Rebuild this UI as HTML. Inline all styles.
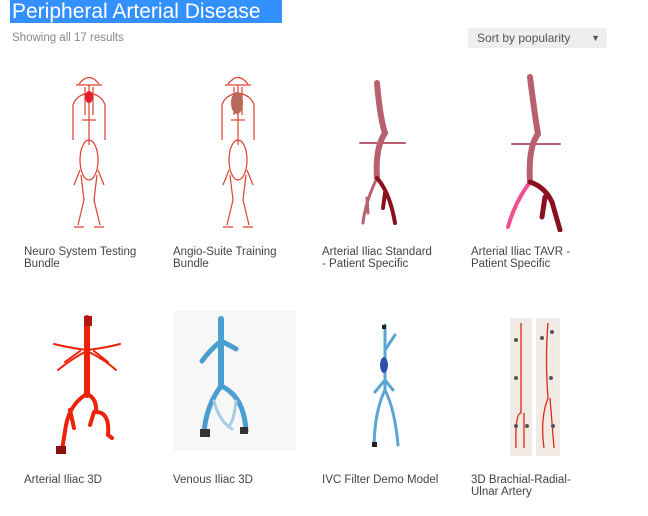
<!DOCTYPE html>
<html><head><meta charset="utf-8"><style>
*{margin:0;padding:0}
body{width:648px;height:516px;background:#fff;position:relative;overflow:hidden;font-family:"Liberation Sans",sans-serif}
.t{position:absolute;left:10px;top:0;height:23px;width:272px;background:#3390ff;color:#fff;font-size:21px;line-height:23px;padding-left:2px;box-sizing:border-box;white-space:nowrap;overflow:hidden}
.s{position:absolute;left:12px;top:32px;font-size:11.5px;color:#888}
.sort{position:absolute;left:468px;top:28px;width:139px;height:20px;background:#eee;border-radius:2px;font-size:12px;color:#555;line-height:20px;padding-left:9px;box-sizing:border-box}
.sort span{position:absolute;right:7px;top:0;font-size:9px}
.l{position:absolute;font-size:11.5px;line-height:12px;color:#444;white-space:nowrap}
svg{position:absolute}
</style></head><body>
<div class="t">Peripheral Arterial Disease</div>
<div class="s">Showing all 17 results</div>
<div class="sort">Sort by popularity<span>▼</span></div>

<svg style="left:64px;top:75px" width="52" height="160" viewBox="0 0 52 160">
<g stroke="#dd4030" fill="none" stroke-width="1.2">
<path d="M15 9 Q25 -4 35 9 M12 10 H38"/>
<path d="M25 10 V70 M21 12 V40 M29 12 V40"/>
<path d="M25 18 Q12 20 9 30 V65 M25 18 Q38 20 41 30 V65"/>
<path d="M18 45 H32"/>
<ellipse cx="25" cy="85" rx="9" ry="20"/>
<path d="M17 100 L20 125 L14 150 M33 100 L30 125 L36 150 M16 95 L10 110 M34 95 L40 110"/>
<path d="M10 152 H20 M30 152 H40"/>
</g><ellipse cx="25" cy="22" rx="4" ry="6" fill="#e0202a"/></svg>

<svg style="left:213px;top:75px" width="52" height="160" viewBox="0 0 52 160">
<g stroke="#dd4030" fill="none" stroke-width="1.2">
<path d="M15 9 Q25 -4 35 9 M12 10 H38"/>
<path d="M25 10 V70 M21 12 V40 M29 12 V40"/>
<path d="M25 18 Q12 20 9 30 V65 M25 18 Q38 20 41 30 V65"/>
<path d="M18 45 H32"/>
<ellipse cx="25" cy="85" rx="9" ry="20"/>
<path d="M17 100 L20 125 L14 150 M33 100 L30 125 L36 150 M16 95 L10 110 M34 95 L40 110"/>
<path d="M10 152 H20 M30 152 H40"/>
</g><ellipse cx="24" cy="28" rx="6" ry="11" fill="#b86a5a"/></svg>

<svg style="left:355px;top:78px" width="80" height="150" viewBox="0 0 80 150">
<g fill="none" stroke-linecap="round">
<path d="M22 5 Q25 40 30 55 Q20 70 22 100" stroke="#b86070" stroke-width="6"/>
<path d="M5 65 H50" stroke="#b86070" stroke-width="2"/>
<path d="M22 100 Q10 125 8 145 M12 120 L13 135" stroke="#b86070" stroke-width="3"/>
<path d="M22 100 Q35 115 40 145 M30 115 L28 130" stroke="#8a1020" stroke-width="4"/>
</g></svg>

<svg style="left:500px;top:72px" width="80" height="160" viewBox="0 0 80 160">
<g fill="none" stroke-linecap="round">
<path d="M30 5 Q35 45 38 62 Q28 75 30 110" stroke="#b86070" stroke-width="6"/>
<path d="M12 72 H60" stroke="#b86070" stroke-width="2"/>
<path d="M30 110 Q15 130 8 155" stroke="#f05090" stroke-width="4"/>
<path d="M30 110 Q45 115 52 130 L60 158 M45 125 L42 145" stroke="#8a1020" stroke-width="5"/>
</g></svg>

<svg style="left:0;top:300px" width="150" height="160" viewBox="0 0 150 160">
<g fill="none" stroke="#ee2208" stroke-linecap="round">
<path d="M87 18 V95" stroke-width="6"/>
<path d="M87 50 Q70 48 54 44 M85 52 Q70 60 58 70 M80 51 L65 62 M87 50 Q105 48 120 44 M89 52 Q105 60 116 70 M94 51 L108 62" stroke-width="2"/>
<path d="M85 95 Q70 105 66 125 L62 150 M89 95 Q97 100 96 112 Q110 112 108 135 L112 138 M70 110 L74 128 M94 112 L90 125" stroke-width="4"/>
</g><rect x="84" y="16" width="8" height="10" fill="#b01818"/><rect x="56" y="146" width="10" height="8" fill="#8a1010"/></svg>

<svg style="left:174px;top:311px" width="122" height="140" viewBox="0 0 122 140">
<rect width="122" height="140" fill="#f7f7f8"/>
<g fill="none" stroke="#4a9fd0" stroke-linecap="round">
<path d="M47 8 V75" stroke-width="6"/>
<path d="M47 30 Q35 40 28 50 M47 30 Q57 35 62 38" stroke-width="5"/>
<path d="M47 75 Q32 95 30 122 M47 75 Q70 85 72 120" stroke-width="5"/>
<path d="M40 90 Q45 110 58 118 M62 90 Q60 110 55 115" stroke="#a8cde3" stroke-width="3"/>
</g><rect x="26" y="118" width="10" height="8" fill="#333"/><rect x="66" y="116" width="8" height="7" fill="#333"/></svg>

<svg style="left:360px;top:320px" width="50" height="135" viewBox="0 0 50 135">
<g fill="none" stroke="#5aa5d5" stroke-linecap="round">
<path d="M25 5 V70 M25 70 Q15 90 14 125 M25 70 Q35 90 38 125 M25 30 L35 15 M25 60 L15 72 M25 60 L33 70" stroke-width="3"/>
</g><ellipse cx="24" cy="45" rx="4" ry="8" fill="#3050b0"/>
<rect x="12" y="122" width="5" height="5" fill="#222"/><rect x="22" y="5" width="4" height="4" fill="#222"/></svg>

<svg style="left:510px;top:318px" width="60" height="140" viewBox="0 0 60 140">
<rect x="0" y="0" width="22" height="138" fill="#f2ebe5"/><rect x="26" y="0" width="24" height="138" fill="#f2ebe5"/>
<g fill="none" stroke="#dd2a10" stroke-width="1.3"><path d="M11 5 V95 Q5 95 6 130 M14 95 V130"/><path d="M38 5 Q35 40 38 80 Q30 100 34 130 M40 80 L44 130"/></g>
<g fill="#555"><circle cx="6" cy="22" r="2"/><circle cx="32" cy="20" r="2"/><circle cx="42" cy="14" r="2"/><circle cx="6" cy="60" r="2"/><circle cx="41" cy="60" r="2"/><circle cx="6" cy="108" r="2"/><circle cx="17" cy="108" r="2"/><circle cx="43" cy="108" r="2"/></g></svg>

<div class="l" style="left:24px;top:246px">Neuro System Testing<br>Bundle</div>
<div class="l" style="left:173px;top:246px">Angio-Suite Training<br>Bundle</div>
<div class="l" style="left:322px;top:246px">Arterial Iliac Standard<br>- Patient Specific</div>
<div class="l" style="left:471px;top:246px">Arterial Iliac TAVR -<br>Patient Specific</div>
<div class="l" style="left:24px;top:474px">Arterial Iliac 3D</div>
<div class="l" style="left:173px;top:474px">Venous Iliac 3D</div>
<div class="l" style="left:322px;top:474px">IVC Filter Demo Model</div>
<div class="l" style="left:471px;top:474px">3D Brachial-Radial-<br>Ulnar Artery</div>
</body></html>
